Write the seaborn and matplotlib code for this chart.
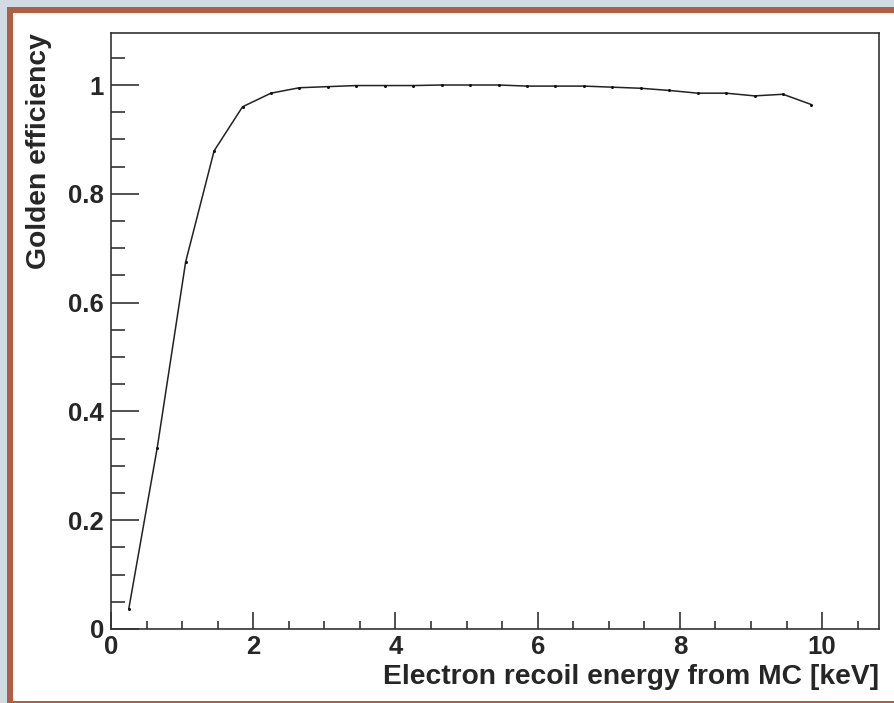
import matplotlib
matplotlib.use("Agg")
import matplotlib.pyplot as plt
from matplotlib.patches import Rectangle
from matplotlib.ticker import FixedLocator, MultipleLocator
import seaborn as sns
import pandas as pd

# Efficiency of the golden selection versus simulated electron-recoil energy
energy_kev = [0.25, 0.65, 1.05, 1.45, 1.85, 2.25, 2.65, 3.05, 3.45, 3.85,
              4.25, 4.65, 5.05, 5.45, 5.85, 6.25, 6.65, 7.05, 7.45, 7.85,
              8.25, 8.65, 9.05, 9.45, 9.85]
golden_eff = [0.037, 0.333, 0.675, 0.879, 0.960, 0.985, 0.995, 0.997, 0.999, 0.999,
              0.999, 1.000, 1.000, 1.000, 0.998, 0.998, 0.998, 0.996, 0.994, 0.990,
              0.985, 0.985, 0.980, 0.983, 0.964]
x_ticks = [0, 2, 4, 6, 8, 10]
y_ticks = [0, 0.2, 0.4, 0.6, 0.8, 1.0]
y_tick_labels = ["0", "0.2", "0.4", "0.6", "0.8", "1"]
x_label = "Electron recoil energy from MC [keV]"
y_label = "Golden efficiency"

df = pd.DataFrame({"energy": energy_kev, "eff": golden_eff})

sns.set_style("ticks")
plt.rcParams["font.family"] = ["Liberation Sans", "DejaVu Sans"]
plt.rcParams["font.weight"] = "bold"

W, H = 895, 703
fig = plt.figure(figsize=(W / 100, H / 100), dpi=100)
fig.patch.set_facecolor("#d0dce2")

# white slide panel with a brown frame
panel = Rectangle((10 / W, -0.5 / H), (W + 20) / W, (H - 10 + 0.5) / H,
                  transform=fig.transFigure, facecolor="white",
                  edgecolor="#b05e44", linewidth=6 * 72 / 100, zorder=0)
fig.add_artist(panel)

left, right, top, bottom = 111, 879, 33, 629
ax = fig.add_axes([left / W, (H - bottom) / H, (right - left) / W, (bottom - top) / H])
ax.set_facecolor("white")

sns.lineplot(data=df, x="energy", y="eff", ax=ax, color="#222222", linewidth=1.1,
             marker="o", markersize=2.2, markeredgewidth=0, markerfacecolor="#111111")

ax.set_xlim(0, 10.8)
ax.set_ylim(0, 1.0956)

ax.xaxis.set_major_locator(FixedLocator(x_ticks))
ax.xaxis.set_minor_locator(MultipleLocator(0.5))
ax.yaxis.set_major_locator(FixedLocator(y_ticks))
ax.yaxis.set_minor_locator(MultipleLocator(0.05))
ax.set_yticks(y_ticks)
ax.set_yticklabels(y_tick_labels)
ax.set_xticks(x_ticks)
ax.set_xticklabels([str(v) for v in x_ticks])

for s in ax.spines.values():
    s.set_color("#333333")
    s.set_linewidth(1.2)

ax.tick_params(axis="both", which="both", direction="in", color="#333333", width=1.2,
               top=False, right=False, labelsize=18.5)
ax.tick_params(axis="y", which="major", length=28 * 0.72, pad=5)
ax.tick_params(axis="y", which="minor", length=14 * 0.72)
ax.tick_params(axis="x", which="major", length=17 * 0.72, pad=4)
ax.tick_params(axis="x", which="minor", length=8.5 * 0.72)
for lab in ax.get_xticklabels() + ax.get_yticklabels():
    lab.set_fontweight("bold")

ax.set_xlabel(x_label, fontsize=20.3, fontweight="bold", loc="right", labelpad=4)
ax.set_ylabel(y_label, fontsize=20.3, fontweight="bold", loc="top", labelpad=12)

fig.savefig("out.png", dpi=100, facecolor=fig.get_facecolor())
